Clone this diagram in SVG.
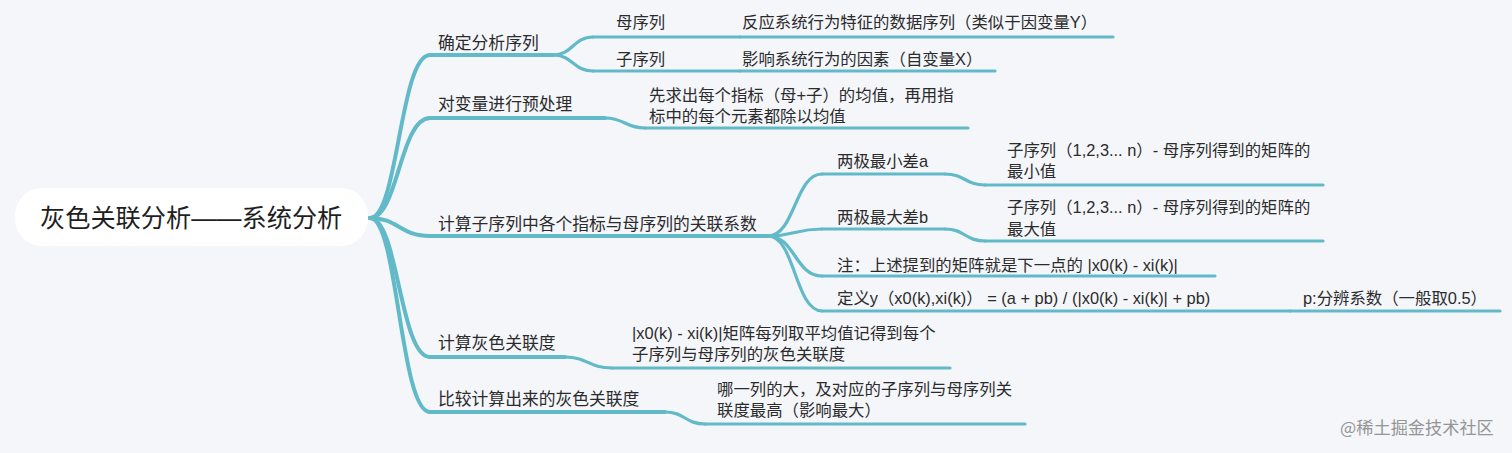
<svg xmlns="http://www.w3.org/2000/svg" width="1512" height="453" viewBox="0 0 1512 453">
<style>
.t{font-family:"Liberation Sans","Noto Sans CJK SC",sans-serif;font-size:16.4px;fill:#2b2b2b}
.t1{font-family:"Liberation Sans","Noto Sans CJK SC",sans-serif;font-size:16.8px;fill:#2b2b2b}
.r{font-family:"Liberation Sans","Noto Sans CJK SC",sans-serif;font-size:25.2px;fill:#1f1f1f}
.l1{fill:none;stroke:#62bac9;stroke-width:4;stroke-linecap:round}
.l2{fill:none;stroke:#62bac9;stroke-width:3.2;stroke-linecap:round}
.wm{font-family:"Noto Sans CJK SC",sans-serif;font-size:17.2px;fill:#959595}
</style>
<rect width="1512" height="453" fill="#f4f6fa"/>
<g id="connectors">
<path class="l1" d="M370,218 C398,218 400,55 430,55"/>
<path class="l1" d="M370,218 C398,218 400,118 430,118"/>
<path class="l1" d="M370,218 C398,218 400,236 430,236"/>
<path class="l1" d="M370,218 C398,218 400,357 430,357"/>
<path class="l1" d="M370,218 C398,218 400,412 430,412"/>
<path class="l2" d="M553,55 C573,55 573,37 593,37"/>
<path class="l2" d="M553,55 C573,55 573,71 593,71"/>
<path class="l2" d="M605,118 C625,118 625,128 645,128"/>
<path class="l2" d="M768,236 C795,236 795,174 822,174"/>
<path class="l2" d="M768,236 C795,236 795,229 822,229"/>
<path class="l2" d="M768,236 C795,236 795,276 822,276"/>
<path class="l2" d="M768,236 C795,236 795,311 822,311"/>
<path class="l2" d="M945,174 C965,174 965,185 985,185"/>
<path class="l2" d="M945,229 C965,229 965,241 985,241"/>
<path class="l2" d="M565,357 C588,357 588,368 612,368"/>
<path class="l2" d="M665,412 C685,412 685,424 705,424"/>
</g>
<g id="root">
<rect x="15" y="188" width="353" height="58" rx="27" fill="#ffffff"/>
<text class="r" x="40" y="227">灰色关联分析——系统分析</text>
</g>
<g id="n1">
<path class="l1" d="M430,55 L553,55"/>
<text class="t1" x="438" y="49">确定分析序列</text>
</g>
<g id="n1a">
<path class="l2" d="M593,37 L740,37"/>
<text class="t" x="616" y="28">母序列</text>
</g>
<g id="n1a1">
<path class="l2" d="M740,37 L1113,37"/>
<text class="t" x="742" y="28">反应系统行为特征的数据序列（类似于因变量Y）</text>
</g>
<g id="n1b">
<path class="l2" d="M593,71 L740,71"/>
<text class="t" x="616" y="65">子序列</text>
</g>
<g id="n1b1">
<path class="l2" d="M740,71 L995,71"/>
<text class="t" x="742" y="65">影响系统行为的因素（自变量X）</text>
</g>
<g id="n2">
<path class="l1" d="M430,118 L605,118"/>
<text class="t1" x="438" y="110">对变量进行预处理</text>
</g>
<g id="n2a">
<path class="l2" d="M645,128 L968,128"/>
<text class="t" x="649" y="101">先求出每个指标（母+子）的均值，再用指</text>
<text class="t" x="649" y="122">标中的每个元素都除以均值</text>
</g>
<g id="n3">
<path class="l1" d="M430,236 L768,236"/>
<text class="t1" x="438" y="230">计算子序列中各个指标与母序列的关联系数</text>
</g>
<g id="n3a">
<path class="l2" d="M822,174 L945,174"/>
<text class="t" x="837" y="167">两极最小差a</text>
</g>
<g id="n3a1">
<path class="l2" d="M985,185 L1323,185"/>
<text class="t" x="1007" y="156">子序列（1,2,3... n）- 母序列得到的矩阵的</text>
<text class="t" x="1007" y="177">最小值</text>
</g>
<g id="n3b">
<path class="l2" d="M822,229 L945,229"/>
<text class="t" x="837" y="223">两极最大差b</text>
</g>
<g id="n3b1">
<path class="l2" d="M985,241 L1323,241"/>
<text class="t" x="1007" y="213">子序列（1,2,3... n）- 母序列得到的矩阵的</text>
<text class="t" x="1007" y="235">最大值</text>
</g>
<g id="n3c">
<path class="l2" d="M822,276 L1215,276"/>
<text class="t" x="837" y="271">注：上述提到的矩阵就是下一点的 |x0(k) - xi(k)|</text>
</g>
<g id="n3d">
<path class="l2" d="M822,311 L1290,311"/>
<text class="t" x="837" y="304">定义y（x0(k),xi(k)） = (a + pb) / (|x0(k) - xi(k)| + pb)</text>
</g>
<g id="n3d1">
<path class="l2" d="M1290,311 L1500,311"/>
<text class="t" x="1303" y="304">p:分辨系数（一般取0.5）</text>
</g>
<g id="n4">
<path class="l1" d="M430,357 L565,357"/>
<text class="t1" x="438" y="349">计算灰色关联度</text>
</g>
<g id="n4a">
<path class="l2" d="M612,368 L950,368"/>
<text class="t" x="632" y="339">|x0(k) - xi(k)|矩阵每列取平均值记得到每个</text>
<text class="t" x="632" y="360">子序列与母序列的灰色关联度</text>
</g>
<g id="n5">
<path class="l1" d="M430,412 L665,412"/>
<text class="t1" x="438" y="405">比较计算出来的灰色关联度</text>
</g>
<g id="n5a">
<path class="l2" d="M705,424 L1025,424"/>
<text class="t" x="717" y="395">哪一列的大，及对应的子序列与母序列关</text>
<text class="t" x="717" y="416">联度最高（影响最大）</text>
</g>
<text class="wm" x="1340" y="434">@稀土掘金技术社区</text>
</svg>
